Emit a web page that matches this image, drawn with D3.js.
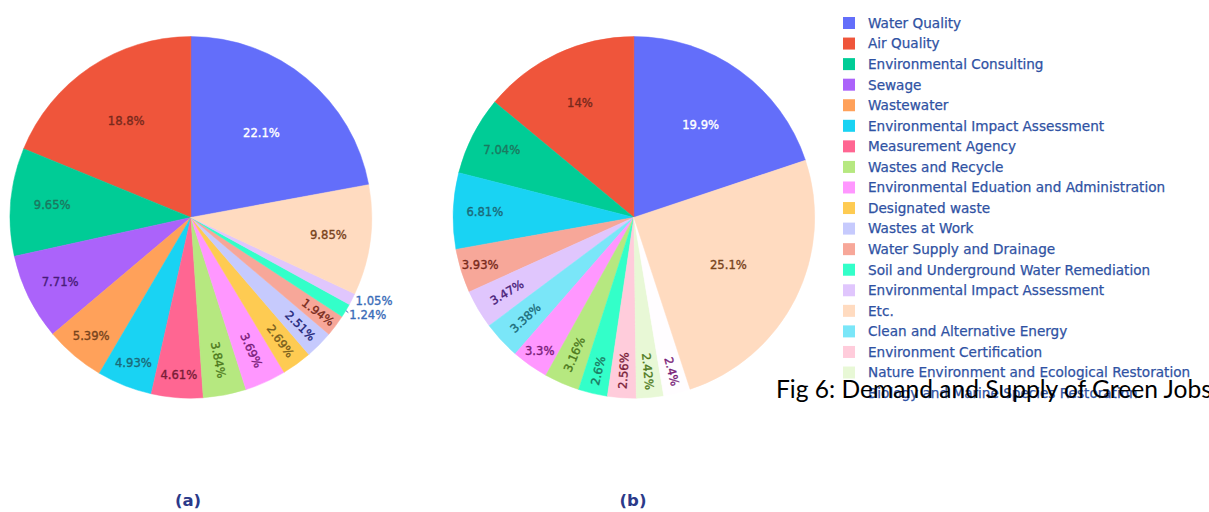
<!DOCTYPE html>
<html><head><meta charset="utf-8">
<script src="https://cdn.jsdelivr.net/npm/d3@7"></script>
<style>html,body{margin:0;padding:0;background:#fff;overflow:hidden}</style>
</head><body>
<svg id="chart" width="1209" height="512"></svg>
<script>
// ---------- data ----------
const categories = [
  "Water Quality", "Air Quality", "Environmental Consulting", "Sewage", "Wastewater",
  "Environmental Impact Assessment", "Measurement Agency", "Wastes and Recycle",
  "Environmental Eduation and Administration", "Designated waste", "Wastes at Work",
  "Water Supply and Drainage", "Soil and Underground Water Remediation",
  "Environmental Impact Assessment", "Etc.", "Clean and Alternative Energy",
  "Environment Certification", "Nature Environment and Ecological Restoration",
  "Biology and Marine Species Restoration"
];
const categoryColors = [
  "#636efa", "#ef553b", "#00cc96", "#ab63fa", "#ffa15a", "#19d3f3", "#ff6692", "#b6e880",
  "#ff97ff", "#fecb52", "#c6cafd", "#f7a799", "#33ffc9", "#e0c6fd", "#ffdbc0", "#7ae6f8",
  "#ffccdb", "#e8f8d6", "#fffdff"
];
// Pie (a): category index per slice (counter-clockwise order) and values (%)
const pieACategories = [0, 1, 2, 3, 4, 5, 6, 7, 8, 9, 10, 11, 12, 13, 14];
const pieAValues = [22.1, 18.8, 9.65, 7.71, 5.39, 4.93, 4.61, 3.84, 3.69, 2.69, 2.51, 1.94, 1.24, 1.05, 9.85];
// Pie (b)
const pieBCategories = [0, 1, 2, 5, 11, 13, 15, 8, 7, 12, 16, 17, 18, 14];
const pieBValues = [19.9, 14, 7.04, 6.81, 3.93, 3.47, 3.38, 3.3, 3.16, 2.6, 2.56, 2.42, 2.4, 25.1];
const subLabels = ["(a)", "(b)"];
const caption = "Fig 6: Demand and Supply of Green Jobs";

// ---------- layout ----------
const svg = d3.select("#chart");
const R = 180.8;
const LABEL_FONT = "DejaVu Sans, Verdana, sans-serif";
const LABEL_SIZE = 11.6;
const TEXTPAD = 3;
const fmt = d3.format(".3~p");

function textColorFor(c) {
  const rgb = d3.rgb(c);
  const bright = (rgb.r * 299 + rgb.g * 587 + rgb.b * 114) / 1000;
  if (bright < 128) return "#ffffff";
  const h = d3.hsl(c);
  return d3.hsl(isNaN(h.h) ? 240 : h.h, 0.62, 0.29).formatHex();
}
function maxHalfSize(a, half, r) {
  const q = a + 1 / (2 * Math.tan(half));
  return r * Math.min(1 / (Math.sqrt(q * q + 0.5) + q), 1 / (Math.sqrt(a * a + 0.5) + a));
}
function rCenterOf(a, b) { return Math.sqrt(1 - b * b) - a * b; }
function normRot(deg) { let d = ((deg % 180) + 180) % 180; if (d > 90) d -= 180; return d; }

function drawPie(cx, cy, cats, values) {
  const total = d3.sum(values);
  const a0 = 2 * Math.PI * values[0] / total;
  const pie = d3.pie().sort(null).value(d => d.v).startAngle(a0).endAngle(a0 - 2 * Math.PI);
  const data = cats.map((k, i) => ({ k, v: values[i] }));
  const arcs = pie(data);
  const arc = d3.arc().innerRadius(0).outerRadius(R);
  const g = svg.append("g").attr("transform", `translate(${cx},${cy})`);
  g.selectAll("path.slice").data(arcs).join("path")
    .attr("class", "slice")
    .attr("d", arc)
    .attr("fill", d => categoryColors[d.data.k])
    .attr("stroke", d => categoryColors[d.data.k])
    .attr("stroke-width", 0.5);

  const outside = [];
  arcs.forEach(d => {
    const col = categoryColors[d.data.k];
    const txt = fmt(d.data.v / total);
    const half = Math.abs(d.endAngle - d.startAngle) / 2;
    const mid = (d.startAngle + d.endAngle) / 2;
    const lg = g.append("g");
    const t = lg.append("text").text(txt)
      .attr("font-family", LABEL_FONT).attr("font-size", LABEL_SIZE)
      .attr("text-anchor", "middle").attr("stroke-width", 0.35);
    const bb = t.node().getBBox();
    const w = bb.width, h = bb.height;
    t.attr("y", -(bb.y + bb.height / 2));
    const rIns = Math.min(1 / (1 + 1 / Math.sin(half)), 0.5);
    const hor = { scale: rIns * R * 2 / Math.hypot(w, h), rc: 1 - rIns, rot: 0 };
    let best = hor;
    if (hor.scale < 1) {
      const rr = R - 2 * TEXTPAD;
      let a = w / h, s = maxHalfSize(a, half, rr);
      const rad = { scale: 2 * s / h, rc: rCenterOf(a, s / rr), rot: normRot(mid * 180 / Math.PI - 90) };
      a = h / w; s = maxHalfSize(a, half, rr);
      const tan = { scale: 2 * s / w, rc: rCenterOf(a, s / rr), rot: normRot(mid * 180 / Math.PI) };
      [hor, rad, tan].forEach(c => { if (c.scale > best.scale) best = c; });
    }
    const px = R * Math.sin(mid), py = -R * Math.cos(mid);
    if (best.scale >= 1) {
      const tc = textColorFor(col);
      t.attr("fill", tc).attr("stroke", tc);
      lg.attr("transform", `translate(${px * best.rc},${py * best.rc}) rotate(${best.rot})`);
    } else {
      let dx = w / 2, dy = h / 2;
      if (px < 0) dx = -dx;
      if (py < 0) dy = -dy;
      const ox = dx + Math.abs(dy) * (dx > 0 ? 1 : -1) / 2;
      const oy = dy / (1 + px * px / (py * py));
      outside.push({ lg, t, px, py, x: px + ox, y: py + oy, w, h });
    }
  });
  // scoot overlapping outside labels (moving down)
  outside.sort((a, b) => a.y - b.y);
  for (let i = 1; i < outside.length; i++) {
    const p = outside[i - 1], o = outside[i];
    if (o.y - o.h / 2 < p.y + p.h / 2) { o.y = p.y + p.h / 2 + o.h / 2; o.moved = true; }
  }
  outside.forEach(o => {
    o.t.attr("fill", "#3a6cb8").attr("stroke", "#3a6cb8");
    o.lg.attr("transform", `translate(${o.x},${o.y})`);
    if (o.moved) {
      const tx = o.x - o.w / 2 - 1;
      g.append("path")
        .attr("d", d3.line()([[o.px, o.py], [tx, o.y - 2]]))
        .attr("stroke", "#3a6cb8").attr("stroke-width", 1).attr("fill", "none");
    }
  });
}

drawPie(190.9, 217.4, pieACategories, pieAValues);
drawPie(633.9, 217.4, pieBCategories, pieBValues);

// ---------- legend ----------
const legendY = d3.scalePoint().domain(d3.range(categories.length)).range([23, 23 + 20.56 * (categories.length - 1)]);
const leg = svg.append("g");
categories.forEach((c, i) => {
  const y = legendY(i);
  leg.append("rect").attr("x", 843).attr("y", y - 6).attr("width", 12).attr("height", 12)
    .attr("fill", categoryColors[i]);
  leg.append("text").attr("x", 868).attr("y", y).attr("dy", "0.36em")
    .attr("font-family", LABEL_FONT).attr("font-size", 13.6)
    .attr("fill", "#2f52a3").attr("stroke", "#2f52a3").attr("stroke-width", 0.25).text(c);
});

// ---------- caption ----------
const cap = svg.append("text").attr("x", 776).attr("y", 398)
  .attr("font-family", "Lato, Open Sans, sans-serif").attr("font-size", 20)
  .attr("fill", "#000").text(caption);
const cw = cap.node().getComputedTextLength();
cap.attr("font-size", 20 * 436 / cw);

// ---------- sub labels ----------
[188, 633].forEach((x, i) => {
  svg.append("text").attr("x", x).attr("y", 506).attr("text-anchor", "middle")
    .attr("font-family", LABEL_FONT).attr("font-size", 16.5).attr("font-weight", "bold")
    .attr("fill", "#2b3a8a").text(subLabels[i]);
});
</script>
</body></html>
